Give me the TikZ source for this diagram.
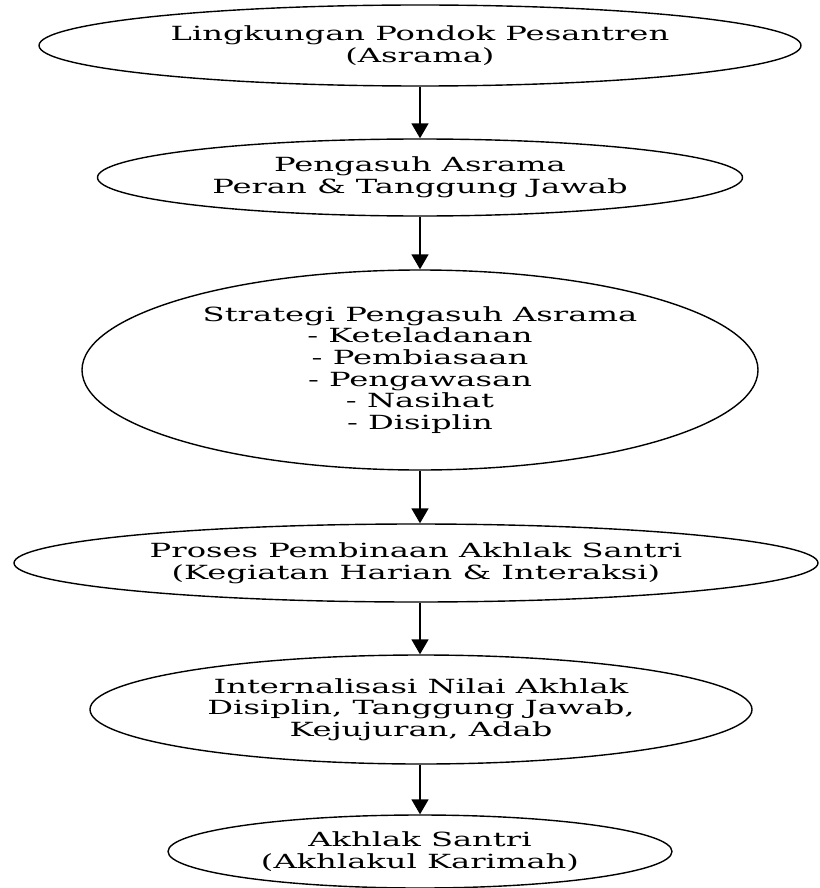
\documentclass[tikz,border=0pt]{standalone}
\usepackage{fontspec}
\setmainfont[FakeStretch=1.65]{DejaVu Serif}
\usetikzlibrary{arrows.meta,shapes.geometric}
\begin{document}
\begin{tikzpicture}[x=1pt,y=-1pt,
  ell/.style={draw=black, line width=1.4pt, ellipse, inner sep=0pt, align=center,
    font=\fontsize{19.5}{21.6}\selectfont},
  arr/.style={draw=black, line width=1.6pt, -{Triangle[length=15pt,width=17pt]}}]
\useasboundingbox (0,0) rectangle (819,888);
\node[ell, minimum width=762pt, minimum height=81pt] (e1) at (420,45.5) {Lingkungan Pondok Pesantren\\(Asrama)};
\node[ell, minimum width=645pt, minimum height=77pt] (e2) at (420,177.5) {Pengasuh Asrama\\Peran \& Tanggung Jawab};
\node[ell, minimum width=676pt, minimum height=200pt] (e3) at (420,370) {Strategi Pengasuh Asrama\\- Keteladanan\\- Pembiasaan\\- Pengawasan\\- Nasihat\\- Disiplin};
\node[ell, minimum width=804pt, minimum height=78pt] (e4) at (416,563) {Proses Pembinaan Akhlak Santri\\(Kegiatan Harian \& Interaksi)};
\node[ell, minimum width=662pt, minimum height=109pt] (e5) at (421,709.5) {Internalisasi Nilai Akhlak\\Disiplin, Tanggung Jawab,\\Kejujuran, Adab};
\node[ell, minimum width=504pt, minimum height=73pt] (e6) at (420,851.5) {Akhlak Santri\\(Akhlakul Karimah)};
\draw[arr] (e1.south) -- (e1.south |- e2.north);
\draw[arr] (e2.south) -- (e2.south |- e3.north);
\draw[arr] (e3.south) -- (e3.south |- e4.north);
\draw[arr] (e4.south -| e3.south) -- (e3.south |- e5.north);
\draw[arr] (e5.south -| e3.south) -- (e3.south |- e6.north);
\end{tikzpicture}
\end{document}
